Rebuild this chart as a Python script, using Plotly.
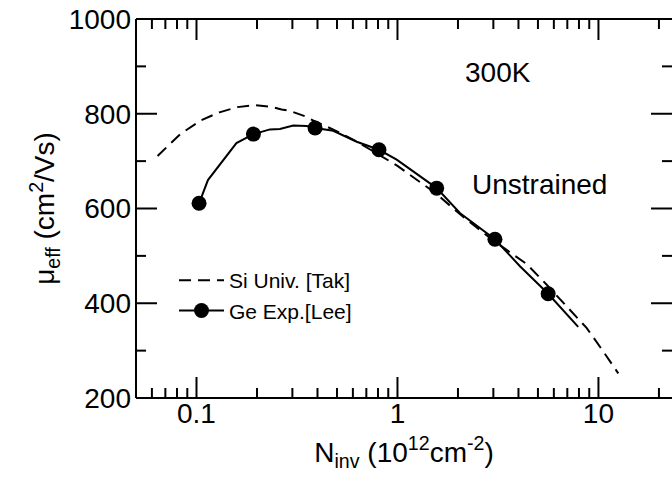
import math
import plotly.graph_objects as go

# Si universal mobility curve (dashed)
si_n = [0.064, 0.083, 0.105, 0.13, 0.16, 0.195, 0.24, 0.265, 0.292, 0.35, 0.38, 0.5, 0.63, 0.8, 1.0,
        1.55, 2.1, 3.05, 4.39, 5.5, 6.95, 8.73, 10.5, 12.55]
si_mu = [711, 757, 786, 803, 814, 818, 814, 809, 806, 794, 786, 763, 741, 714, 690,
         632, 584, 530, 483, 440, 393, 348, 300, 252]

# Ge experimental curve (solid line through points)
ge_line_n = [0.103, 0.114, 0.158, 0.192, 0.232, 0.260, 0.303, 0.353, 0.389, 0.479, 0.627, 0.809,
             0.991, 1.397, 1.567, 2.05, 3.055, 4.07, 5.62, 7.93]
ge_line_mu = [611, 660, 738, 757, 767, 768, 775, 774, 770, 764, 741, 724,
              703, 657, 643, 590, 535, 478, 420, 350]

# Ge experimental markers
ge_pt_n = [0.103, 0.192, 0.389, 0.809, 1.567, 3.055, 5.62]
ge_pt_mu = [611, 757, 770, 724, 643, 535, 420]

# ticks
x_tickvals = [0.1, 1, 10]
x_ticktext = ["0.1", "1", "10"]
x_minor = [0.06, 0.07, 0.08, 0.09, 0.2, 0.3, 0.4, 0.5, 0.6, 0.7, 0.8, 0.9,
           2, 3, 4, 5, 6, 7, 8, 9, 20]
y_tickvals = [200, 400, 600, 800, 1000]
y_minor = [300, 500, 700, 900]

X_RANGE = [-1.301, 1.366]
Y_RANGE = [200, 1000]
FONT = "Liberation Sans, Arial, sans-serif"

W, H = 672, 480
ML, MR, MT, MB = 136, 0, 19, 82
PW, PH = W - ML - MR, H - MT - MB


def xp(v):
    return (math.log10(v) - X_RANGE[0]) / (X_RANGE[1] - X_RANGE[0])


def yp(v):
    return (v - Y_RANGE[0]) / (Y_RANGE[1] - Y_RANGE[0])


LINE = dict(color="black", width=2)
shapes = [
    dict(type="line", xref="paper", yref="paper", x0=0, x1=1, y0=0, y1=0, line=LINE),
    dict(type="line", xref="paper", yref="paper", x0=0, x1=1, y0=1, y1=1, line=LINE),
    dict(type="line", xref="paper", yref="paper", x0=0, x1=0, y0=0, y1=1, line=LINE),
]
for vals, ln in ((x_tickvals, 21), (x_minor, 10)):
    for v in vals:
        p = xp(v)
        shapes.append(dict(type="line", xref="paper", yref="paper", x0=p, x1=p, y0=0, y1=ln / PH, line=LINE))
        shapes.append(dict(type="line", xref="paper", yref="paper", x0=p, x1=p, y0=1, y1=1 - ln / PH, line=LINE))
for vals, ln in ((y_tickvals, 21), (y_minor, 10)):
    for v in vals:
        p = yp(v)
        shapes.append(dict(type="line", xref="paper", yref="paper", x0=0, x1=ln / PW, y0=p, y1=p, line=LINE))
        shapes.append(dict(type="line", xref="paper", yref="paper", x0=1, x1=1 - ln / PW, y0=p, y1=p, line=LINE))

fig = go.Figure()
fig.add_trace(go.Scatter(
    x=si_n, y=si_mu, mode="lines", name="Si Univ. [Tak]",
    line=dict(color="black", width=2, dash="12px,7px"),
))
fig.add_trace(go.Scatter(
    x=ge_line_n, y=ge_line_mu, mode="lines", name="Ge Exp.[Lee]",
    line=dict(color="black", width=2), legendgroup="ge", showlegend=False,
))
fig.add_trace(go.Scatter(
    x=ge_pt_n, y=ge_pt_mu, mode="markers", name="Ge Exp.[Lee]",
    marker=dict(color="black", size=15), legendgroup="ge", showlegend=False,
))
fig.add_trace(go.Scatter(
    x=[None], y=[None], mode="markers+lines", name="Ge Exp.[Lee]",
    line=dict(color="black", width=2), marker=dict(color="black", size=15),
))

fig.update_layout(
    template="none",
    width=W, height=H,
    margin=dict(l=ML, r=MR, t=MT, b=MB),
    paper_bgcolor="white", plot_bgcolor="white",
    font=dict(family=FONT, size=28, color="black"),
    showlegend=True,
    legend=dict(
        x=(174 - ML) / PW, y=(398 - 260) / PH, xanchor="left", yanchor="top",
        bgcolor="rgba(0,0,0,0)", borderwidth=0,
        font=dict(family=FONT, size=21, color="black"),
        itemwidth=45, tracegroupgap=0,
    ),
    xaxis=dict(
        type="log", range=X_RANGE, automargin=False,
        showline=False, ticks="", ticklabelstandoff=-4,
        tickmode="array", tickvals=x_tickvals, ticktext=x_ticktext,
        showgrid=False, zeroline=False,
        tickfont=dict(family=FONT, size=28, color="black"),
        title=dict(text="N<sub>inv</sub> (10<sup>12</sup>cm<sup>-2</sup>)",
                   font=dict(family=FONT, size=28, color="black"), standoff=14),
    ),
    yaxis=dict(
        range=Y_RANGE, automargin=False,
        showline=False, ticks="", ticklabelstandoff=4,
        tickmode="array", tickvals=y_tickvals,
        showgrid=False, zeroline=False,
        tickfont=dict(family=FONT, size=28, color="black"),
        title=dict(text="μ<sub>eff</sub> (cm<sup>2</sup>/Vs)",
                   font=dict(family=FONT, size=28, color="black"), standoff=5),
    ),
    shapes=shapes,
    annotations=[
        dict(text="300K", xref="paper", yref="paper", x=(463 - ML) / PW, y=(398 - 72) / PH,
             xanchor="left", yanchor="middle", showarrow=False, font=dict(family=FONT, size=28)),
        dict(text="Unstrained", xref="paper", yref="paper", x=(470 - ML) / PW, y=(398 - 184) / PH,
             xanchor="left", yanchor="middle", showarrow=False, font=dict(family=FONT, size=28)),
    ],
)

fig.write_html("out.html")
